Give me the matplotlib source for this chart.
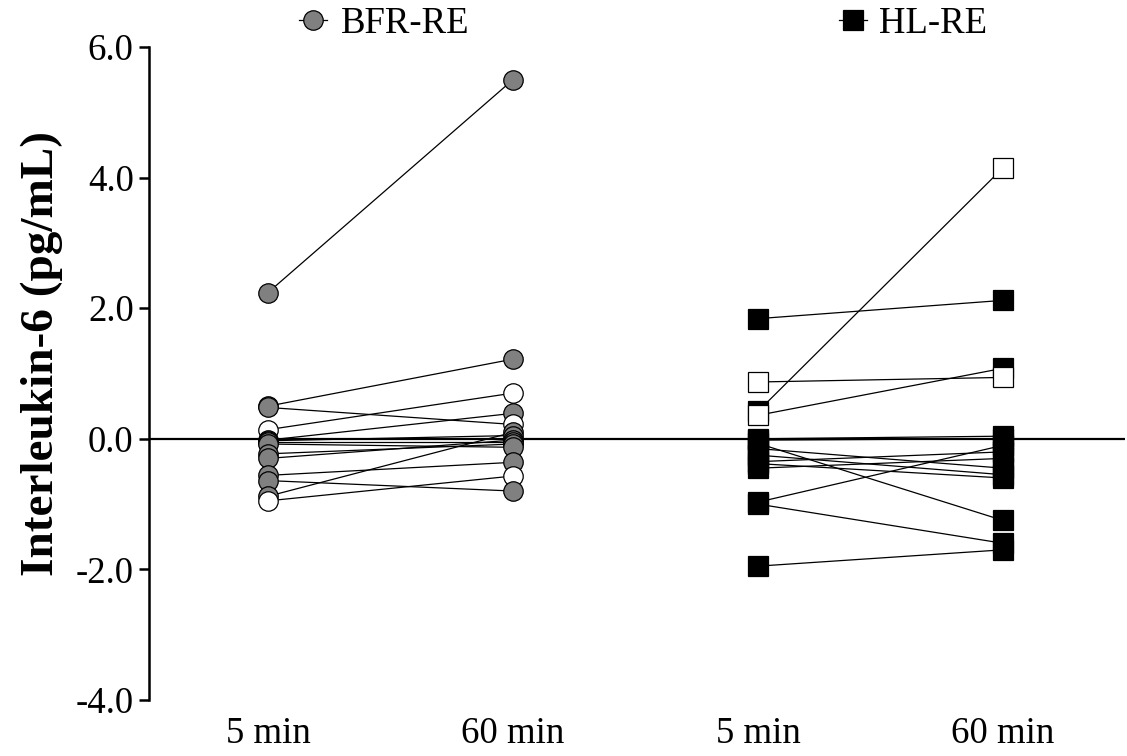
import matplotlib
matplotlib.use("Agg")
import matplotlib.pyplot as plt
from matplotlib.lines import Line2D

plt.rcParams['font.family'] = ['Liberation Serif', 'DejaVu Serif']

# ---- data ----
tick_labels = ["5 min", "60 min", "5 min", "60 min"]
groups = ["BFR-RE", "HL-RE"]

bfr_5 = [2.24, 0.50, 0.48, 0.14, -0.02, -0.03, -0.05, -0.08, -0.23, -0.30, -0.56, -0.64, -0.88, -0.95]
bfr_60 = [5.50, 1.22, 0.22, 0.70, 0.39, 0.05, -0.05, -0.13, -0.08, -0.02, -0.36, -0.80, 0.10, -0.57]
bfr_5_open = [0, 0, 0, 1, 0, 0, 0, 0, 0, 0, 0, 0, 0, 1]
bfr_60_open = [0, 0, 1, 1, 0, 0, 0, 0, 0, 0, 0, 0, 0, 1]

hl_5 = [1.84, 0.87, 0.42, 0.36, 0.00, -0.02, -0.07, -0.15, -0.25, -0.35, -0.38, -0.45, -0.97, -1.00, -1.95]
hl_60 = [2.12, 0.94, 4.15, 1.08, 0.04, 0.00, -1.25, -0.45, -0.55, -0.20, -0.60, -0.30, -0.10, -1.60, -1.70]
hl_5_open = [0, 1, 0, 1, 0, 0, 0, 0, 0, 0, 0, 0, 0, 0, 0]
hl_60_open = [0, 1, 1, 0, 0, 0, 0, 0, 0, 0, 0, 0, 0, 0, 0]

GREY = "#808080"
FS = 26.5

fig = plt.figure(figsize=(11.27, 7.56), dpi=100)
ax = fig.add_axes([149 / 1127, 1 - 700 / 756, (1125 - 149) / 1127, (700 - 47) / 756])

positions = [1, 2, 3, 4]


def draw_group(x0, x1, pre, post, pre_open, post_open, marker, fill, ms):
    for a, b in zip(pre, post):
        ax.plot([x0, x1], [a, b], color="black", lw=0.9, zorder=2)
    pts = [(x0, v, o) for v, o in zip(pre, pre_open)] + [(x1, v, o) for v, o in zip(post, post_open)]
    pts.sort(key=lambda p: -p[1])
    z = 3
    for x, v, o in pts:
        ax.plot([x], [v], marker=marker, ms=ms, mfc="white" if o else fill,
                mec="black", mew=0.9, ls="none", zorder=z)
        z += 0.01


draw_group(positions[0], positions[1], bfr_5, bfr_60, bfr_5_open, bfr_60_open, "o", GREY, 14)
draw_group(positions[2], positions[3], hl_5, hl_60, hl_5_open, hl_60_open, "s", "black", 14)

ax.axhline(0, color="black", lw=1.6, zorder=1)

ax.set_xlim(0.514, 4.498)
ax.set_ylim(-4, 6)
ax.set_yticks([-4, -2, 0, 2, 4, 6])
ax.set_yticklabels([f"{v:.1f}" for v in [-4, -2, 0, 2, 4, 6]], fontsize=FS)
ax.set_xticks(positions)
ax.set_xticklabels(tick_labels, fontsize=FS)
ax.tick_params(axis="x", length=0, pad=12)
ax.tick_params(axis="y", length=7, width=1.8, pad=4)
for s in ["top", "right", "bottom"]:
    ax.spines[s].set_visible(False)
ax.spines["left"].set_linewidth(1.8)
ax.set_ylabel("Interleukin-6 (pg/mL)", fontsize=34, fontweight="bold")
ax.yaxis.set_label_coords(-0.088, 0.53)

h1 = Line2D([], [], color="black", lw=0.9, marker="o", ms=14, mfc=GREY, mec="black", mew=0.9)
h2 = Line2D([], [], color="black", lw=0.9, marker="s", ms=14, mfc="black", mec="black", mew=0.9)
fig.legend([h1], [groups[0]], loc="center left", bbox_to_anchor=(299 / 1127, 1 - 24 / 756),
           frameon=False, fontsize=FS, handlelength=0.75, handletextpad=0.4,
           borderpad=0, borderaxespad=0)
fig.legend([h2], [groups[1]], loc="center left", bbox_to_anchor=(839 / 1127, 1 - 24 / 756),
           frameon=False, fontsize=FS, handlelength=0.75, handletextpad=0.35,
           borderpad=0, borderaxespad=0)

fig.savefig("out.png", dpi=100)
